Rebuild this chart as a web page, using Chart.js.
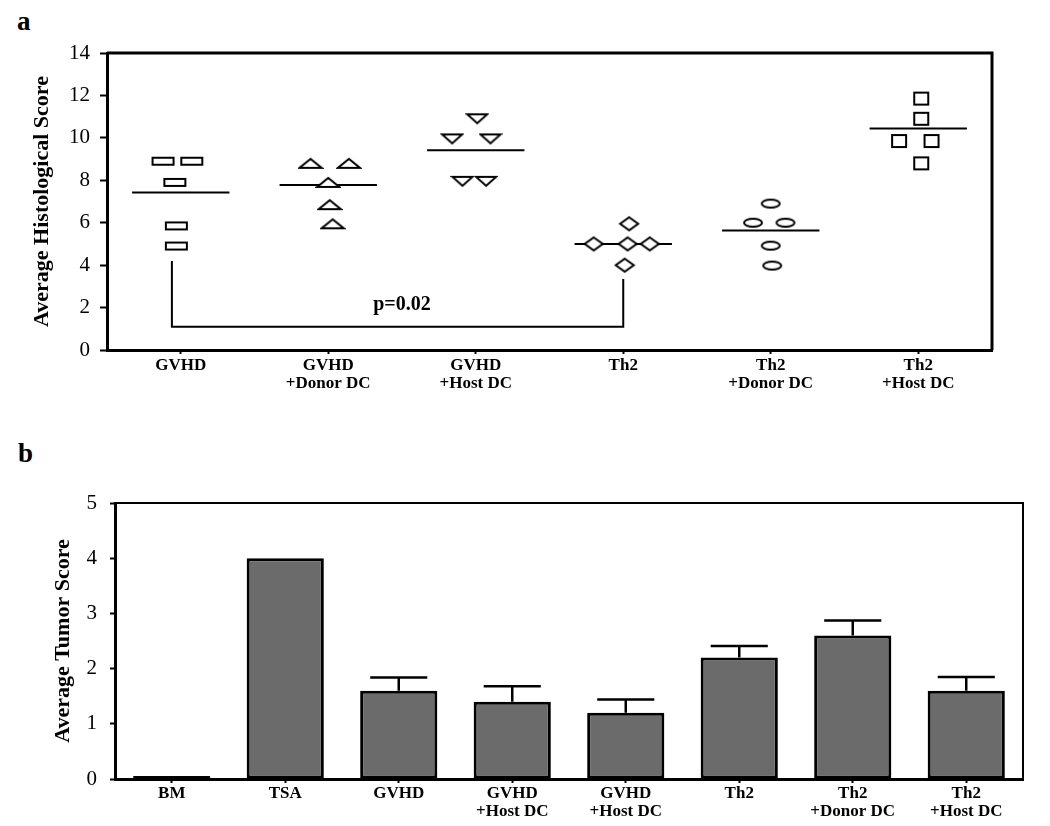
<!DOCTYPE html>
<html>
<head>
<meta charset="utf-8">
<script src="https://cdn.jsdelivr.net/npm/chart.js@4.4.1/dist/chart.umd.min.js"></script>
<style>
    body { margin: 0; background: #fff; }
    .panel { position: absolute; left: 0; width: 1050px; }
    .letter { position: absolute; font: bold 27px "Liberation Serif", "Times New Roman", serif; color: #000; }
</style>
</head>
<body>
<div class="letter" style="left:17px; top:6px;">a</div>
<div class="panel" style="top:0; height:400px;"><canvas id="chart-histo"></canvas></div>
<div class="letter" style="left:18px; top:438px;">b</div>
<div class="panel" style="top:400px; height:426px;"><canvas id="chart-tumor"></canvas></div>

<script>
// Panel a: histological scores per mouse
var groupLabels = ['GVHD', ['GVHD', '+Donor DC'], ['GVHD', '+Host DC'], 'Th2', ['Th2', '+Donor DC'], ['Th2', '+Host DC']];
var gvhdScores = [8.9, 8.9, 7.9, 5.85, 4.9];
var gvhdJitter = [-0.12, 0.075, -0.04, -0.03, -0.03];
var gvhdDonorScores = [8.8, 8.8, 7.9, 6.85, 5.95];
var gvhdDonorJitter = [-0.12, 0.14, 0, 0.01, 0.03];
var gvhdHostScores = [10.9, 9.95, 9.95, 7.95, 7.95];
var gvhdHostJitter = [0.01, -0.16, 0.1, -0.09, 0.07];
var th2Scores = [5.95, 5.0, 5.0, 5.0, 4.0];
var th2Jitter = [0.04, -0.2, 0.03, 0.18, 0.01];
var th2DonorScores = [6.9, 6.0, 6.0, 4.92, 3.98];
var th2DonorJitter = [0, -0.12, 0.1, 0, 0.01];
var th2HostScores = [11.85, 10.9, 9.85, 9.85, 8.8];
var th2HostJitter = [0.02, 0.02, -0.13, 0.09, 0.02];
var groupMeans = [7.42, 7.78, 9.42, 5.0, 5.63, 10.44];
var bracketX = [-0.06, -0.06, 3, 3];
var bracketY = [4.2, 1.1, 1.1, 3.35];
var pValueText = 'p=0.02';

// Panel b: tumor score
var tumorLabels = ['BM', 'TSA', 'GVHD', ['GVHD', '+Host DC'], ['GVHD', '+Host DC'], 'Th2', ['Th2', '+Donor DC'], ['Th2', '+Host DC']];
var tumorScores = [0.02, 4.0, 1.6, 1.4, 1.2, 2.2, 2.6, 1.6];
var tumorErrors = [0, 0, 0.24, 0.28, 0.24, 0.21, 0.27, 0.25];

var serif = '"Liberation Serif", "Times New Roman", serif';
Chart.defaults.font.family = serif;
Chart.defaults.color = '#000';

function makeMarker(w, h, path) {
    var c = document.createElement('canvas');
    c.width = w + 4;
    c.height = h + 4;
    var ctx = c.getContext('2d');
    ctx.translate(2, 2);
    ctx.lineWidth = 2;
    ctx.strokeStyle = '#000';
    ctx.fillStyle = '#fff';
    ctx.beginPath();
    path(ctx, w, h);
    ctx.closePath();
    ctx.fill();
    ctx.stroke();
    return c;
}

var markers = [
    makeMarker(21, 7, function (ctx, w, h) { ctx.rect(0, 0, w, h); }),
    makeMarker(22, 9, function (ctx, w, h) { ctx.moveTo(w / 2, 0); ctx.lineTo(w, h); ctx.lineTo(0, h); }),
    makeMarker(20, 9, function (ctx, w, h) { ctx.moveTo(0, 0); ctx.lineTo(w, 0); ctx.lineTo(w / 2, h); }),
    makeMarker(18, 13, function (ctx, w, h) { ctx.moveTo(w / 2, 0); ctx.lineTo(w, h / 2); ctx.lineTo(w / 2, h); ctx.lineTo(0, h / 2); }),
    makeMarker(18, 8, function (ctx, w, h) { ctx.ellipse(w / 2, h / 2, w / 2, h / 2, 0, 0, Math.PI * 2); }),
    makeMarker(14, 12, function (ctx, w, h) { ctx.rect(0, 0, w, h); })
];

var groupScores = [gvhdScores, gvhdDonorScores, gvhdHostScores, th2Scores, th2DonorScores, th2HostScores];
var groupJitter = [gvhdJitter, gvhdDonorJitter, gvhdHostJitter, th2Jitter, th2DonorJitter, th2HostJitter];

// draws top + right side of the box
function framePlugin(width) {
    return {
        id: 'frame',
        afterDraw: function (chart) {
            var a = chart.chartArea, ctx = chart.ctx;
            ctx.save();
            ctx.strokeStyle = '#000';
            ctx.lineWidth = width;
            ctx.beginPath();
            ctx.moveTo(a.left, a.top);
            ctx.lineTo(a.right, a.top);
            ctx.lineTo(a.right, a.bottom);
            ctx.stroke();
            ctx.restore();
        }
    };
}

var pValuePlugin = {
    id: 'pvalue',
    afterDatasetsDraw: function (chart) {
        var ctx = chart.ctx;
        ctx.save();
        ctx.font = 'bold 20px ' + serif;
        ctx.fillStyle = '#000';
        ctx.textAlign = 'center';
        ctx.textBaseline = 'alphabetic';
        ctx.fillText(pValueText, chart.scales.x.getPixelForValue(1.5), chart.scales.y.getPixelForValue(1.9));
        ctx.restore();
    }
};

var histoDatasets = [];
groupMeans.forEach(function (m, i) {
    histoDatasets.push({
        type: 'line',
        data: [{ x: i - 0.33, y: m }, { x: i + 0.33, y: m }],
        borderColor: '#000',
        borderWidth: 2,
        pointRadius: 0,
        order: 2
    });
});
histoDatasets.push({
    type: 'line',
    data: bracketX.map(function (x, i) { return { x: x, y: bracketY[i] }; }),
    borderColor: '#000',
    borderWidth: 2,
    pointRadius: 0,
    tension: 0,
    order: 2
});
groupScores.forEach(function (scores, i) {
    histoDatasets.push({
        type: 'scatter',
        data: scores.map(function (s, j) { return { x: i + groupJitter[i][j], y: s }; }),
        pointStyle: markers[i],
        pointRadius: 5,
        order: 1
    });
});

new Chart(document.getElementById('chart-histo'), {
    type: 'scatter',
    data: { datasets: histoDatasets },
    plugins: [framePlugin(3), pValuePlugin],
    options: {
        responsive: true,
        maintainAspectRatio: false,
        animation: false,
        layout: { padding: { top: 53, right: 58, left: 0, bottom: 0 } },
        plugins: { legend: { display: false }, tooltip: { enabled: false } },
        scales: {
            x: {
                type: 'linear',
                min: -0.5,
                max: 5.5,
                afterBuildTicks: function (scale) {
                    scale.ticks = groupLabels.map(function (l, i) { return { value: i }; });
                },
                afterFit: function (scale) { scale.height = 50; },
                ticks: {
                    autoSkip: false,
                    maxRotation: 0,
                    padding: 2,
                    font: { size: 17, weight: 'bold', lineHeight: 1.1 },
                    callback: function (value) { return groupLabels[value]; }
                },
                grid: { drawOnChartArea: false, tickLength: 4, tickWidth: 2, tickColor: '#000' },
                border: { display: true, width: 3, color: '#000' }
            },
            y: {
                min: 0,
                max: 14,
                afterFit: function (scale) { scale.width = 107; },
                ticks: { stepSize: 2, padding: 10, font: { size: 21 } },
                grid: { drawOnChartArea: false, tickLength: 7, tickWidth: 2, tickColor: '#000' },
                border: { display: true, width: 3, color: '#000' },
                title: {
                    display: true,
                    text: 'Average Histological Score',
                    font: { size: 22, weight: 'bold' },
                    padding: { top: 29, bottom: 0 }
                }
            }
        }
    }
});

// error bars, upper whisker only
var errorBarPlugin = {
    id: 'errorbars',
    afterDatasetsDraw: function (chart) {
        var ctx = chart.ctx, y = chart.scales.y;
        var meta = chart.getDatasetMeta(0);
        ctx.save();
        ctx.strokeStyle = '#000';
        ctx.lineWidth = 2.5;
        meta.data.forEach(function (bar, i) {
            if (!tumorErrors[i]) return;
            var top = y.getPixelForValue(tumorScores[i] + tumorErrors[i]);
            var half = bar.width * 0.37;
            ctx.beginPath();
            ctx.moveTo(bar.x, bar.y);
            ctx.lineTo(bar.x, top);
            ctx.moveTo(bar.x - half, top);
            ctx.lineTo(bar.x + half, top);
            ctx.stroke();
        });
        ctx.restore();
    }
};

new Chart(document.getElementById('chart-tumor'), {
    type: 'bar',
    data: {
        labels: tumorLabels,
        datasets: [{
            data: tumorScores,
            backgroundColor: '#6b6b6b',
            borderColor: '#000',
            borderWidth: 3,
            borderSkipped: false,
            minBarLength: 3,
            barPercentage: 0.68,
            categoryPercentage: 1
        }]
    },
    plugins: [framePlugin(2), errorBarPlugin],
    options: {
        responsive: true,
        maintainAspectRatio: false,
        animation: false,
        layout: { padding: { top: 103, right: 27, left: 0, bottom: 0 } },
        plugins: { legend: { display: false }, tooltip: { enabled: false } },
        scales: {
            x: {
                afterFit: function (scale) { scale.height = 47; },
                ticks: {
                    autoSkip: false,
                    maxRotation: 0,
                    padding: 1,
                    font: { size: 17, weight: 'bold', lineHeight: 1.1 }
                },
                grid: { drawOnChartArea: false, offset: false, tickLength: 4, tickWidth: 2, tickColor: '#000' },
                border: { display: true, width: 3, color: '#000' }
            },
            y: {
                min: 0,
                max: 5,
                afterFit: function (scale) { scale.width = 115; },
                ticks: { stepSize: 1, padding: 13, font: { size: 21 } },
                grid: { drawOnChartArea: false, tickLength: 5, tickWidth: 2, tickColor: '#000' },
                border: { display: true, width: 3, color: '#000' },
                title: {
                    display: true,
                    text: 'Average Tumor Score',
                    font: { size: 22, weight: 'bold' },
                    padding: { top: 50, bottom: 0 }
                }
            }
        }
    }
});
</script>
</body>
</html>
